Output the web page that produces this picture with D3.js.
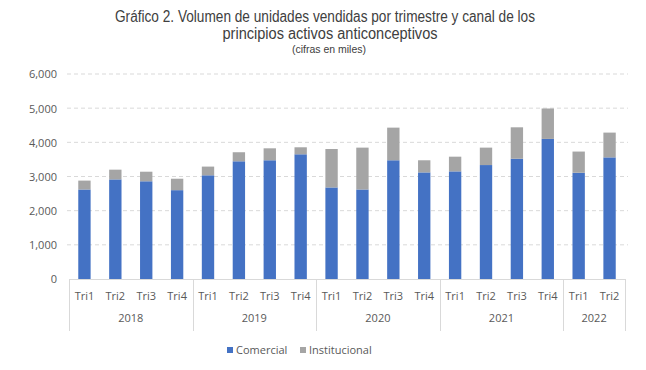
<!DOCTYPE html>
<html lang="en">
  <head>
    <meta charset="utf-8" />
    <script src="https://cdn.jsdelivr.net/npm/d3@7/dist/d3.min.js"></script>
    <title>Gráfico 2</title>
    <style>
      body { margin: 0; background: #fff; }
      text { fill: #595959; }
      .title { font-family: "Liberation Sans", Arial, sans-serif; fill: #404040; }
      .axis text, .legend text { font-family: "Open Sans", "Noto Sans", sans-serif; font-size: 11px; }
    </style>
  </head>
  <body>
    <div id="container"></div>

    <script>
      const width = 646;
      const height = 370;

      // data (thousands of units)
      const years = ["2018", "2019", "2020", "2021", "2022"];
      const quarters = [
        ["Tri1", "Tri2", "Tri3", "Tri4"],
        ["Tri1", "Tri2", "Tri3", "Tri4"],
        ["Tri1", "Tri2", "Tri3", "Tri4"],
        ["Tri1", "Tri2", "Tri3", "Tri4"],
        ["Tri1", "Tri2"],
      ];
      const comercial = [2620, 2915, 2860, 2600, 3035, 3445, 3475, 3650, 2680, 2620, 3475, 3120, 3150, 3335, 3520, 4100, 3110, 3560];
      const institucional = [260, 285, 280, 335, 255, 265, 350, 205, 1125, 1225, 955, 355, 430, 510, 920, 890, 620, 725];
      const yTicks = [0, 1000, 2000, 3000, 4000, 5000, 6000];
      const seriesNames = ["Comercial", "Institucional"];
      const colors = ["#4472C4", "#A5A5A5"];

      const categories = [];
      years.forEach((y, i) => quarters[i].forEach((q) => categories.push({ key: y + "-" + q, year: y, q: q })));
      const rows = categories.map((c, i) => ({ key: c.key, Comercial: comercial[i], Institucional: institucional[i] }));

      const margin = { left: 69, right: 21, top: 74, bottom: 91 };

      const svg = d3.select("#container").append("svg").attr("width", width).attr("height", height);

      const x = d3
        .scaleBand()
        .domain(categories.map((c) => c.key))
        .range([margin.left, width - margin.right])
        .paddingInner(0.6)
        .paddingOuter(0.3);
      const y = d3.scaleLinear().domain([0, 6000]).range([height - margin.bottom, margin.top]);

      // title (narrow face squeezed with textLength, as no condensed font is installed)
      const titles = [
        { t: "Gráfico 2. Volumen de unidades vendidas por trimestre y canal de los", cx: 325, y: 22, size: 16, w: 420 },
        { t: "principios activos anticonceptivos", cx: 330, y: 39, size: 16, w: 215 },
        { t: "(cifras en miles)", cx: 329, y: 53, size: 11, w: 74 },
      ];
      svg.append("g").selectAll("text").data(titles).join("text")
        .attr("class", "title")
        .attr("x", (d) => d.cx - d.w / 2)
        .attr("y", (d) => d.y)
        .attr("textLength", (d) => d.w)
        .attr("lengthAdjust", "spacingAndGlyphs")
        .style("font-size", (d) => d.size + "px")
        .text((d) => d.t);

      // gridlines
      svg.append("g").selectAll("line").data(yTicks.filter((d) => d > 0)).join("line")
        .attr("x1", margin.left - 2).attr("x2", width - margin.right + 3)
        .attr("y1", (d) => y(d)).attr("y2", (d) => y(d))
        .attr("stroke", "#D9D9D9").attr("stroke-dasharray", "4,3");

      // y axis labels
      const yAxis = svg.append("g").attr("class", "axis").attr("transform", `translate(${margin.left - 12},0)`)
        .call(d3.axisLeft(y).tickValues(yTicks).tickFormat(d3.format(",")).tickSize(0).tickPadding(0));
      yAxis.select(".domain").remove();
      yAxis.selectAll("text").attr("dy", "0.35em");

      // bars
      const stacked = d3.stack().keys(seriesNames)(rows);
      svg.append("g").selectAll("g").data(stacked).join("g")
        .attr("fill", (d, i) => colors[i])
        .selectAll("rect").data((d) => d).join("rect")
        .attr("x", (d) => x(d.data.key))
        .attr("width", x.bandwidth())
        .attr("y", (d) => y(d[1]))
        .attr("height", (d) => y(d[0]) - y(d[1]));

      // x axis: baseline, quarter labels, year groups
      const x0 = x.range()[0], x1 = x.range()[1];
      const base = y(0);
      svg.append("line").attr("x1", x0).attr("x2", x1).attr("y1", base + 0.5).attr("y2", base + 0.5).attr("stroke", "#D9D9D9");

      const xAxis = svg.append("g").attr("class", "axis").attr("transform", `translate(0,${base})`)
        .call(d3.axisBottom(x).tickSize(0).tickPadding(13).tickFormat((k) => categories.find((c) => c.key === k).q));
      xAxis.select(".domain").remove();

      let idx = 0;
      const groups = years.map((yr, i) => {
        const g = { year: yr, start: idx, end: idx + quarters[i].length };
        idx += quarters[i].length;
        return g;
      });
      const bx = (i) => x0 + i * x.step();

      const bounds = [0].concat(groups.map((g) => g.end));
      svg.append("g").selectAll("line").data(bounds).join("line")
        .attr("x1", (d) => Math.round(bx(d)) + 0.5).attr("x2", (d) => Math.round(bx(d)) + 0.5)
        .attr("y1", base).attr("y2", base + 52)
        .attr("stroke", "#D9D9D9");

      svg.append("g").attr("class", "axis").selectAll("text").data(groups).join("text")
        .attr("x", (d) => (bx(d.start) + bx(d.end)) / 2)
        .attr("y", base + 43)
        .attr("text-anchor", "middle")
        .text((d) => d.year);

      // legend
      const legend = svg.append("g").attr("class", "legend");
      const items = [{ name: seriesNames[0], x: 227 }, { name: seriesNames[1], x: 300 }];
      items.forEach((it, i) => {
        legend.append("rect").attr("x", it.x).attr("y", 347).attr("width", 6).attr("height", 6).attr("fill", colors[i]);
        legend.append("text").attr("x", it.x + 9).attr("y", 354).text(it.name);
      });
    </script>
  </body>
</html>
